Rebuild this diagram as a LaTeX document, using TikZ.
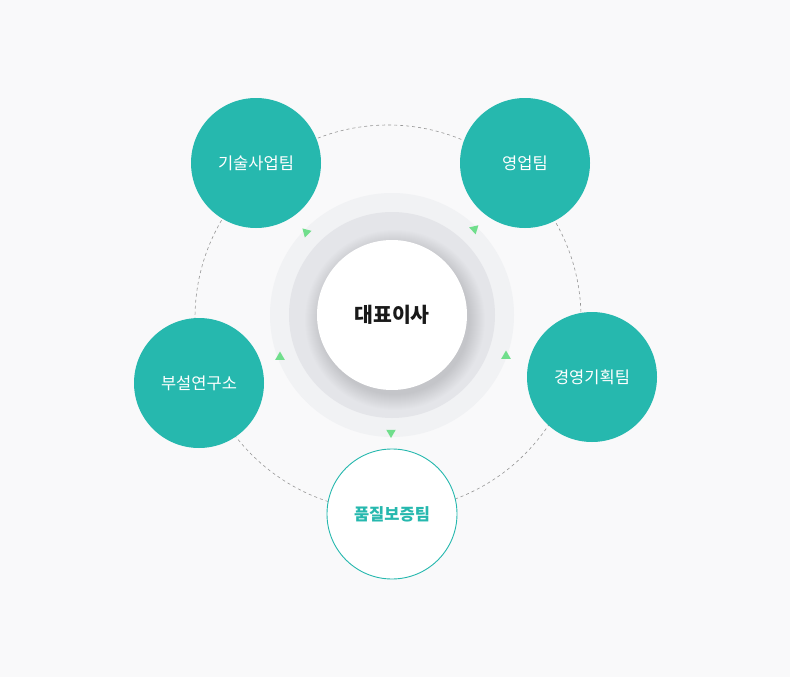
\documentclass[tikz,border=0pt]{standalone}
\usepackage{fontspec}
\usetikzlibrary{calc}
\newfontfamily\kr{Noto Sans CJK KR}
\definecolor{bgc}{RGB}{249,249,250}
\definecolor{tealc}{RGB}{38,184,174}
\definecolor{ringout}{RGB}{241,242,244}
\definecolor{ringmid}{RGB}{228,229,233}
\definecolor{arrowg}{RGB}{112,222,140}
\definecolor{dashg}{RGB}{150,150,150}
\tikzset{
  sat/.style={circle, fill=tealc, minimum size=130pt, inner sep=0pt, text=white,
    font=\kr\fontsize{16.5}{19}\selectfont},
  satw/.style={circle, fill=white, draw=tealc, line width=0.9pt, minimum size=130pt, inner sep=0pt,
    text=tealc, font=\kr\bfseries\fontsize{16.5}{19}\selectfont},
  ceo/.style={circle, fill=white, minimum size=150pt, inner sep=0pt, text={black!90},
    font=\kr\bfseries\fontsize{20.5}{24}\selectfont},
  lbl/.style={yshift=-1.5pt},
  ring/.style={dash pattern=on 3pt off 3pt, draw=dashg, line width=0.6pt},
  tri/.style={fill=arrowg}
}
\begin{document}
\begin{tikzpicture}[x=1pt,y=-1pt]
\useasboundingbox (0,0) rectangle (790,677);
\fill[bgc] (0,0) rectangle (790,677);
% dashed orbit
\draw[ring] (388,318) circle (193pt);
% central rings
\fill[ringout] (392,315) circle (122pt);
\fill[ringmid] (392,315) circle (103pt);
\foreach \i in {0,...,15}{
  \pgfmathsetmacro{\rr}{75+\i*1.0}
  \fill[black, opacity=0.008] (395,320) circle (\rr pt);
}
\node[ceo] (ceo) at (392,315) {\raisebox{-1.5pt}{대표이사}};
% direction triangles
\coordinate (t1) at (306.3,232.3);
\coordinate (t2) at (474.4,229);
\coordinate (t3) at (506,356);
\coordinate (t4) at (391,432.5);
\coordinate (t5) at (280,357);
\fill[tri] ($(t1)+(-135:5.5)$) -- ($(t1)+(-15:5.5)$) -- ($(t1)+(105:5.5)$) -- cycle;
\fill[tri] ($(t2)+(-43:5.5)$) -- ($(t2)+(77:5.5)$) -- ($(t2)+(197:5.5)$) -- cycle;
\fill[tri] ($(t3)+(-90:5.5)$) -- ($(t3)+(30:5.5)$) -- ($(t3)+(150:5.5)$) -- cycle;
\fill[tri] ($(t4)+(90:5.5)$) -- ($(t4)+(210:5.5)$) -- ($(t4)+(330:5.5)$) -- cycle;
\fill[tri] ($(t5)+(-90:5.5)$) -- ($(t5)+(30:5.5)$) -- ($(t5)+(150:5.5)$) -- cycle;
% satellite teams
\node[sat] (tech) at (256,163) {\raisebox{-2pt}{기술사업팀}};
\node[sat] (sales) at (525,163) {\raisebox{-2pt}{영업팀}};
\node[sat] (plan) at (592,377) {\raisebox{-2pt}{경영기획팀}};
\node[sat] (lab) at (199,383) {\raisebox{-2pt}{부설연구소}};
\node[satw] (qa) at (392,514) {\raisebox{-2pt}{품질보증팀}};
\end{tikzpicture}
\end{document}
